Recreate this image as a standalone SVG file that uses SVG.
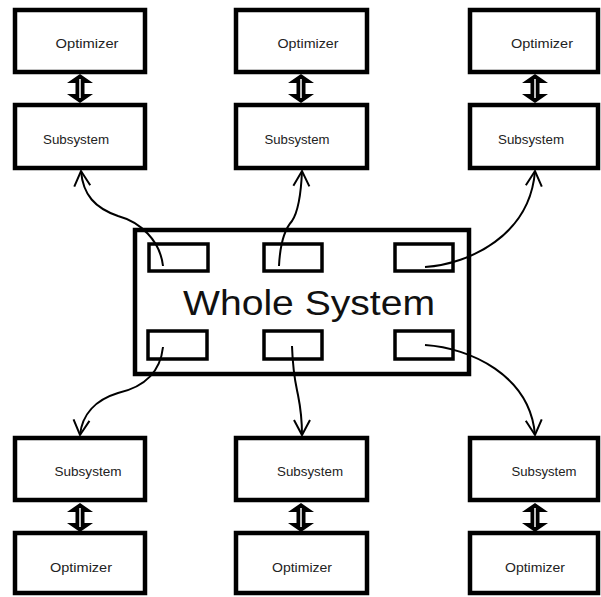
<svg xmlns="http://www.w3.org/2000/svg" xmlns:xlink="http://www.w3.org/1999/xlink" width="601" height="597" viewBox="0 0 601 597">
<style>
.box{fill:#fff;stroke:#000;stroke-width:4.5;stroke-linejoin:miter}
.port{fill:#fff;stroke:#000;stroke-width:3.5}
.lbl{font-family:"Liberation Sans",Arial,sans-serif;font-size:13.5px;fill:#222;text-anchor:middle}
.big{font-family:"Liberation Sans",Arial,sans-serif;font-size:35px;fill:#111;text-anchor:middle}
.conn{fill:none;stroke:#000;stroke-width:2}
</style>
<defs>
<marker id="vhead" markerUnits="userSpaceOnUse" markerWidth="30" markerHeight="30" viewBox="-20 -15 30 30" refX="0" refY="0" orient="auto">
<path d="M-15,-8 L0,0 L-15,8" fill="none" stroke="#000" stroke-width="2"/>
</marker>
<g id="dbl">
<polygon points="0,0 13,9 4.5,9 4.5,20 13,20 0,29 -13,20 -4.5,20 -4.5,9 -13,9" fill="#000"/>
<line x1="0" y1="5" x2="0" y2="24" stroke="#fff" stroke-width="1.5"/>
</g>
</defs>
<rect width="601" height="597" fill="#fff"/>

<g id="whole-system">
<rect class="box" x="135" y="230" width="334" height="144"/>
<text class="big" x="309" y="315" textLength="252" lengthAdjust="spacingAndGlyphs">Whole System</text>
</g>
<g id="ports">
<rect class="port" x="149" y="244" width="59" height="27"/>
<rect class="port" x="264" y="244" width="58" height="27"/>
<rect class="port" x="395" y="244" width="58" height="27"/>
<rect class="port" x="148" y="331" width="59" height="28"/>
<rect class="port" x="264" y="331" width="58" height="28"/>
<rect class="port" x="395" y="331" width="58" height="28"/>
</g>

<g id="opt-tl"><rect class="box" x="15" y="10" width="130" height="62"/><text class="lbl" x="87" y="48" textLength="63" lengthAdjust="spacingAndGlyphs">Optimizer</text></g>
<g id="sub-tl"><rect class="box" x="15" y="105" width="130" height="63"/><text class="lbl" x="76" y="144" textLength="66" lengthAdjust="spacingAndGlyphs">Subsystem</text></g>
<g id="opt-tm"><rect class="box" x="236" y="10" width="131" height="62"/><text class="lbl" x="308" y="48" textLength="61" lengthAdjust="spacingAndGlyphs">Optimizer</text></g>
<g id="sub-tm"><rect class="box" x="236" y="105" width="131" height="63"/><text class="lbl" x="297" y="144" textLength="65" lengthAdjust="spacingAndGlyphs">Subsystem</text></g>
<g id="opt-tr"><rect class="box" x="470" y="10" width="128" height="62"/><text class="lbl" x="542" y="48" textLength="62" lengthAdjust="spacingAndGlyphs">Optimizer</text></g>
<g id="sub-tr"><rect class="box" x="470" y="105" width="128" height="63"/><text class="lbl" x="531" y="144" textLength="66" lengthAdjust="spacingAndGlyphs">Subsystem</text></g>

<g id="sub-bl"><rect class="box" x="15" y="438" width="130" height="62"/><text class="lbl" x="88" y="476" textLength="67" lengthAdjust="spacingAndGlyphs">Subsystem</text></g>
<g id="opt-bl"><rect class="box" x="15" y="533" width="130" height="60"/><text class="lbl" x="81" y="572" textLength="62" lengthAdjust="spacingAndGlyphs">Optimizer</text></g>
<g id="sub-bm"><rect class="box" x="236" y="438" width="131" height="62"/><text class="lbl" x="310" y="476" textLength="66" lengthAdjust="spacingAndGlyphs">Subsystem</text></g>
<g id="opt-bm"><rect class="box" x="236" y="533" width="131" height="60"/><text class="lbl" x="302" y="572" textLength="60" lengthAdjust="spacingAndGlyphs">Optimizer</text></g>
<g id="sub-br"><rect class="box" x="470" y="438" width="128" height="62"/><text class="lbl" x="544" y="476" textLength="65" lengthAdjust="spacingAndGlyphs">Subsystem</text></g>
<g id="opt-br"><rect class="box" x="470" y="533" width="128" height="60"/><text class="lbl" x="535" y="572" textLength="60" lengthAdjust="spacingAndGlyphs">Optimizer</text></g>

<g id="connectors">
<use xlink:href="#dbl" x="80" y="74"/>
<use xlink:href="#dbl" x="301" y="74"/>
<use xlink:href="#dbl" x="535" y="74"/>
<use xlink:href="#dbl" x="80" y="503"/>
<use xlink:href="#dbl" x="301" y="503"/>
<use xlink:href="#dbl" x="535" y="503"/>
<path class="conn" marker-end="url(#vhead)" d="M163,266 C160,240 140,222 118,216 C95,208 83,195 81,171"/>
<path class="conn" marker-end="url(#vhead)" d="M279,266 C280,245 284,230 292,221 C298,212 301,195 302,171"/>
<path class="conn" marker-end="url(#vhead)" d="M425,267 C470,264 530,235 535,171"/>
<path class="conn" marker-end="url(#vhead)" d="M163,347 C160,375 140,388 118,393 C95,400 82,415 80,435"/>
<path class="conn" marker-end="url(#vhead)" d="M292,346 C293,375 296,385 298,395 C301,410 302,425 302,435"/>
<path class="conn" marker-end="url(#vhead)" d="M425,345 C470,348 530,375 535,435"/>
</g>
</svg>
